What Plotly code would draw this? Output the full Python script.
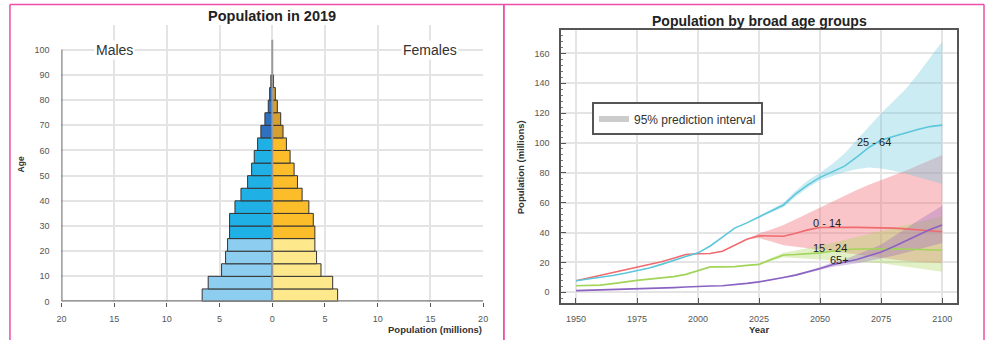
import plotly.graph_objects as go

# ---------------- Data: pyramid (2019) ----------------
age_groups = ["0-4", "5-9", "10-14", "15-19", "20-24", "25-29", "30-34", "35-39",
              "40-44", "45-49", "50-54", "55-59", "60-64", "65-69", "70-74",
              "75-79", "80-84", "85-89"]
age_start = [0, 5, 10, 15, 20, 25, 30, 35, 40, 45, 50, 55, 60, 65, 70, 75, 80, 85]
males = [6.65, 6.08, 4.81, 4.43, 4.24, 4.05, 4.05, 3.54, 2.97, 2.34, 1.96, 1.71,
         1.39, 1.08, 0.70, 0.38, 0.25, 0.13]
females = [6.20, 5.73, 4.62, 4.20, 4.04, 4.04, 3.89, 3.47, 2.83, 2.39, 2.07, 1.69,
           1.34, 1.02, 0.80, 0.48, 0.29, 0.12]
male_tier_colors = {"young": "#8dcdf0", "adult": "#1fb0e6", "old": "#2f70c0", "oldest": "#111111"}
female_tier_colors = {"young": "#fde98c", "adult": "#fcbd2a", "old": "#d69f2e", "oldest": "#111111"}
pyr_xticks = [-20, -15, -10, -5, 0, 5, 10, 15, 20]
pyr_xticklabels = ["20", "15", "10", "5", "0", "5", "10", "15", "20"]
pyr_yticks = [0, 10, 20, 30, 40, 50, 60, 70, 80, 90, 100]

# ---------------- Data: broad age groups ----------------
years = [1950, 1955, 1960, 1965, 1970, 1975, 1980, 1985, 1990, 1995, 2000, 2005,
         2010, 2015, 2020, 2025, 2030, 2035, 2040, 2045, 2050, 2055, 2060, 2065,
         2070, 2075, 2080, 2085, 2090, 2095, 2100]
pop_0_14 = [7.7, 9.5, 11.2, 13.0, 14.8, 16.5, 18.5, 20.5, 22.8, 25.3, 25.8, 26.0,
            27.5, 31.5, 35.5, 37.9, 37.8, 37.5, 39.6, 41.8, 43.4, 43.6, 43.6, 43.5,
            43.4, 43.3, 43.0, 42.5, 41.8, 41.2, 40.6]
pop_15_24 = [4.4, 4.4, 4.8, 5.8, 7.0, 8.0, 8.8, 9.6, 10.5, 12.0, 14.3, 17.0,
             17.0, 17.2, 18.0, 18.7, 22.0, 25.0, 25.3, 25.8, 26.4, 27.5, 28.5, 29.0,
             29.2, 29.3, 29.2, 29.0, 28.7, 28.4, 28.2]
pop_25_64 = [7.7, 8.8, 10.0, 11.3, 12.8, 14.3, 16.3, 18.7, 21.5, 24.0, 26.4, 31.0,
             37.0, 43.0, 46.5, 50.5, 54.5, 58.5, 66.0, 72.0, 77.0, 80.5, 84.5, 90.5,
             97.0, 102.0, 104.5, 107.0, 109.0, 111.0, 112.0]
pop_65p = [1.1, 1.3, 1.6, 1.9, 2.0, 2.2, 2.5, 2.8, 3.1, 3.5, 4.0, 4.2,
           4.4, 5.0, 6.0, 7.0, 8.3, 9.9, 11.5, 13.5, 16.0, 18.5, 20.0, 22.0,
           24.5, 27.0, 30.5, 34.5, 38.5, 42.0, 45.0]

proj_years = [2020, 2025, 2030, 2035, 2040, 2045, 2050, 2055, 2060, 2065, 2070,
              2075, 2080, 2085, 2090, 2095, 2100]
lo_0_14 = [35.5, 36.3, 34.0, 31.5, 30.5, 29.5, 28.5, 27.5, 26.5, 25.3, 24.0, 23.0, 22.0, 21.0, 20.3, 19.8, 19.5]
hi_0_14 = [35.5, 39.5, 42.0, 45.0, 49.0, 53.0, 57.0, 61.0, 65.0, 68.5, 72.0, 75.0, 78.5, 81.5, 85.0, 88.5, 92.0]
lo_15_24 = [18.0, 18.2, 21.0, 23.5, 23.0, 22.5, 22.0, 21.5, 21.0, 20.5, 20.0, 19.5, 18.5, 17.5, 16.3, 15.0, 13.8]
hi_15_24 = [18.0, 19.2, 23.0, 26.5, 28.0, 29.5, 31.0, 33.0, 35.0, 37.0, 39.0, 41.0, 43.0, 45.0, 47.0, 49.0, 51.0]
lo_25_64 = [46.5, 50.0, 53.5, 57.0, 64.0, 70.0, 75.0, 78.0, 80.5, 82.5, 83.6, 83.0, 81.5, 79.5, 77.5, 75.0, 72.5]
hi_25_64 = [46.5, 51.0, 55.5, 60.0, 68.0, 75.0, 80.0, 86.0, 93.0, 102.0, 111.0, 120.0, 128.0, 136.0, 146.0, 157.0, 168.0]
lo_65p = [6.0, 6.9, 8.1, 9.6, 11.0, 12.8, 15.0, 17.0, 18.3, 19.5, 21.0, 22.5, 24.5, 26.5, 29.0, 31.0, 33.0]
hi_65p = [6.0, 7.1, 8.5, 10.2, 12.0, 14.2, 17.0, 20.0, 22.0, 25.0, 28.5, 32.0, 37.0, 42.5, 48.0, 53.0, 58.0]

group_labels = ["0 - 14", "15 - 24", "25 - 64", "65+"]
label_pos_year = [2053, 2054, 2072, 2058]
label_pos_val = [46.5, 29.5, 100.5, 21.5]

W, H = 991, 341
FONT = "Liberation Sans, Arial, sans-serif"


def px(x):
    return x / W


def py(y):
    return 1 - y / H


fig = go.Figure()

# ---------------- Pyramid ----------------
def tier(a):
    if a >= 85:
        return "oldest"
    if a >= 65:
        return "old"
    if a >= 25:
        return "adult"
    return "young"

mids = [a + 2.5 for a in age_start]
fig.add_trace(go.Bar(
    y=mids, x=[-v for v in males], orientation="h", width=5,
    marker=dict(color=[male_tier_colors[tier(a)] for a in age_start],
                line=dict(color="#333333", width=1)),
    customdata=age_groups, showlegend=False, xaxis="x", yaxis="y",
    hovertemplate="Males %{customdata}<extra></extra>"))
fig.add_trace(go.Bar(
    y=mids, x=females, orientation="h", width=5,
    marker=dict(color=[female_tier_colors[tier(a)] for a in age_start],
                line=dict(color="#333333", width=1)),
    customdata=age_groups, showlegend=False, xaxis="x", yaxis="y",
    hovertemplate="Females %{customdata}<extra></extra>"))

# ---------------- Broad age groups ----------------
band_specs = [
    (lo_0_14, hi_0_14, "rgba(240,110,120,0.40)"),
    (lo_15_24, hi_15_24, "rgba(170,215,90,0.35)"),
    (lo_25_64, hi_25_64, "rgba(110,200,220,0.35)"),
    (lo_65p, hi_65p, "rgba(150,100,190,0.33)"),
]
for lo, hi, col in band_specs:
    fig.add_trace(go.Scatter(
        x=proj_years + proj_years[::-1], y=hi + lo[::-1], fill="toself",
        fillcolor=col, line=dict(width=0), mode="lines", showlegend=False,
        hoverinfo="skip", xaxis="x2", yaxis="y2"))

line_specs = [
    (pop_0_14, "#ef6b6e"),
    (pop_15_24, "#a2d45a"),
    (pop_25_64, "#5cc6dc"),
    (pop_65p, "#8a62c2"),
]
for vals, col in line_specs:
    fig.add_trace(go.Scatter(x=years, y=vals, mode="lines",
                             line=dict(color=col, width=1.6), showlegend=False,
                             xaxis="x2", yaxis="y2"))

# legend dummy
fig.add_trace(go.Scatter(x=[None], y=[None], mode="lines",
                         line=dict(color="#cccccc", width=6),
                         name="95% prediction interval", xaxis="x2", yaxis="y2"))

tickfont = dict(family=FONT, size=9, color="#555555")

fig.update_layout(
    width=W, height=H, margin=dict(l=0, r=0, t=0, b=0),
    paper_bgcolor="white", plot_bgcolor="white", barmode="overlay",
    font=dict(family=FONT, color="#333333"),
    xaxis=dict(domain=[px(57), px(483)], range=[-20, 20], tickvals=pyr_xticks,
               ticktext=pyr_xticklabels, showgrid=True, gridcolor="#e4e4e4",
               gridwidth=1.5, zeroline=False, showline=False, ticks="outside",
               ticklen=4, tickcolor="#555555", tickfont=tickfont,
               ticklabelstandoff=5, fixedrange=True),
    yaxis=dict(domain=[py(306), py(25)], range=[0, 110], tickvals=pyr_yticks,
               showgrid=True, gridcolor="#e4e4e4", gridwidth=1.5, zeroline=False,
               showline=False, ticks="", tickfont=tickfont, ticklabelstandoff=11,
               fixedrange=True),
    xaxis2=dict(domain=[px(562), px(962)], range=[1944, 2106.2],
                tickvals=[1950, 1975, 2000, 2025, 2050, 2075, 2100],
                showgrid=True, gridcolor="#e4e4e4", gridwidth=1.5, zeroline=False,
                showline=True, mirror=True, linecolor="#555555", linewidth=2,
                ticks="inside", ticklen=5, tickcolor="#555555", tickfont=tickfont,
                ticklabelstandoff=6, anchor="y2", fixedrange=True),
    yaxis2=dict(domain=[py(308), py(30)], range=[-7.5, 176],
                tickvals=[0, 20, 40, 60, 80, 100, 120, 140, 160],
                showgrid=True, gridcolor="#e4e4e4", gridwidth=1.5, zeroline=False,
                showline=True, mirror=True, linecolor="#555555", linewidth=2,
                ticks="inside", ticklen=5, tickcolor="#555555", tickfont=tickfont,
                minor=dict(dtick=4, ticks="inside", ticklen=2, tickcolor="#777777",
                           showgrid=False),
                ticklabelstandoff=8, anchor="x2", fixedrange=True),
    legend=dict(x=px(593), y=py(104), xanchor="left", yanchor="top",
                bordercolor="#555555", borderwidth=2, bgcolor="white",
                font=dict(family=FONT, size=12, color="#333333"),
                itemwidth=30, tracegroupgap=0),
)

shapes = []
# pyramid axis lines and centre line
shapes.append(dict(type="line", xref="x", yref="y", x0=-20, x1=-20, y0=0, y1=100,
                   line=dict(color="#666666", width=2)))
shapes.append(dict(type="line", xref="x", yref="y", x0=-20, x1=20, y0=0, y1=0,
                   line=dict(color="#777777", width=2.5)))
shapes.append(dict(type="line", xref="x", yref="y", x0=0, x1=0, y0=0, y1=104,
                   line=dict(color="#9a9a9a", width=2), layer="above"))
# pink panel frames
pink = "#ea4ea6"
shapes.append(dict(type="line", xref="paper", yref="paper", x0=px(5), x1=px(989),
                   y0=py(4.5), y1=py(4.5), line=dict(color=pink, width=1.5)))
shapes.append(dict(type="line", xref="paper", yref="paper", x0=px(5), x1=px(5),
                   y0=py(4.5), y1=py(345), line=dict(color=pink, width=1.5)))
shapes.append(dict(type="line", xref="paper", yref="paper", x0=px(504), x1=px(504),
                   y0=py(4.5), y1=py(345), line=dict(color=pink, width=1.8)))
shapes.append(dict(type="line", xref="paper", yref="paper", x0=px(989), x1=px(989),
                   y0=py(4.5), y1=py(345), line=dict(color=pink, width=1.5)))
fig.update_layout(shapes=shapes)

ann = []


def add_ann(text, x, y, xref="paper", yref="paper", size=8, xanchor="center",
            textangle=0, bg=None, color="#333333"):
    d = dict(text=text, x=x, y=y, xref=xref, yref=yref, showarrow=False,
             xanchor=xanchor, yanchor="middle", textangle=textangle,
             font=dict(family=FONT, size=size, color=color))
    if bg:
        d["bgcolor"] = bg
    ann.append(d)


add_ann("<b>Population in 2019</b>", px(270), py(16), size=14.5, color="#222222")
add_ann("Males", -15, 100, xref="x", yref="y", size=14, bg="white")
add_ann("Females", 15, 100, xref="x", yref="y", size=14, bg="white")
add_ann("<b>Age</b>", px(16), py(167), size=8.5, textangle=-90)
add_ann("<b>Population (millions)</b>", px(484), py(334), size=9.5, xanchor="right")
add_ann("<b>Population by broad age groups</b>", px(762), py(21), size=14,
        color="#222222")
add_ann("<b>Year</b>", px(762), py(334), size=9.5)
add_ann("<b>Population (millions)</b>", px(521), py(170), size=9.5, textangle=-90)
for t, xv, yv in zip(group_labels, label_pos_year, label_pos_val):
    add_ann(t, xv, yv, xref="x2", yref="y2", size=11, color="#222222")
fig.update_layout(annotations=ann)

fig.write_html("out.html",
               config={"displayModeBar": False},
               post_script="document.body.style.margin='0';"
                           "document.body.style.padding='0';"
                           "document.body.style.overflow='hidden';")
